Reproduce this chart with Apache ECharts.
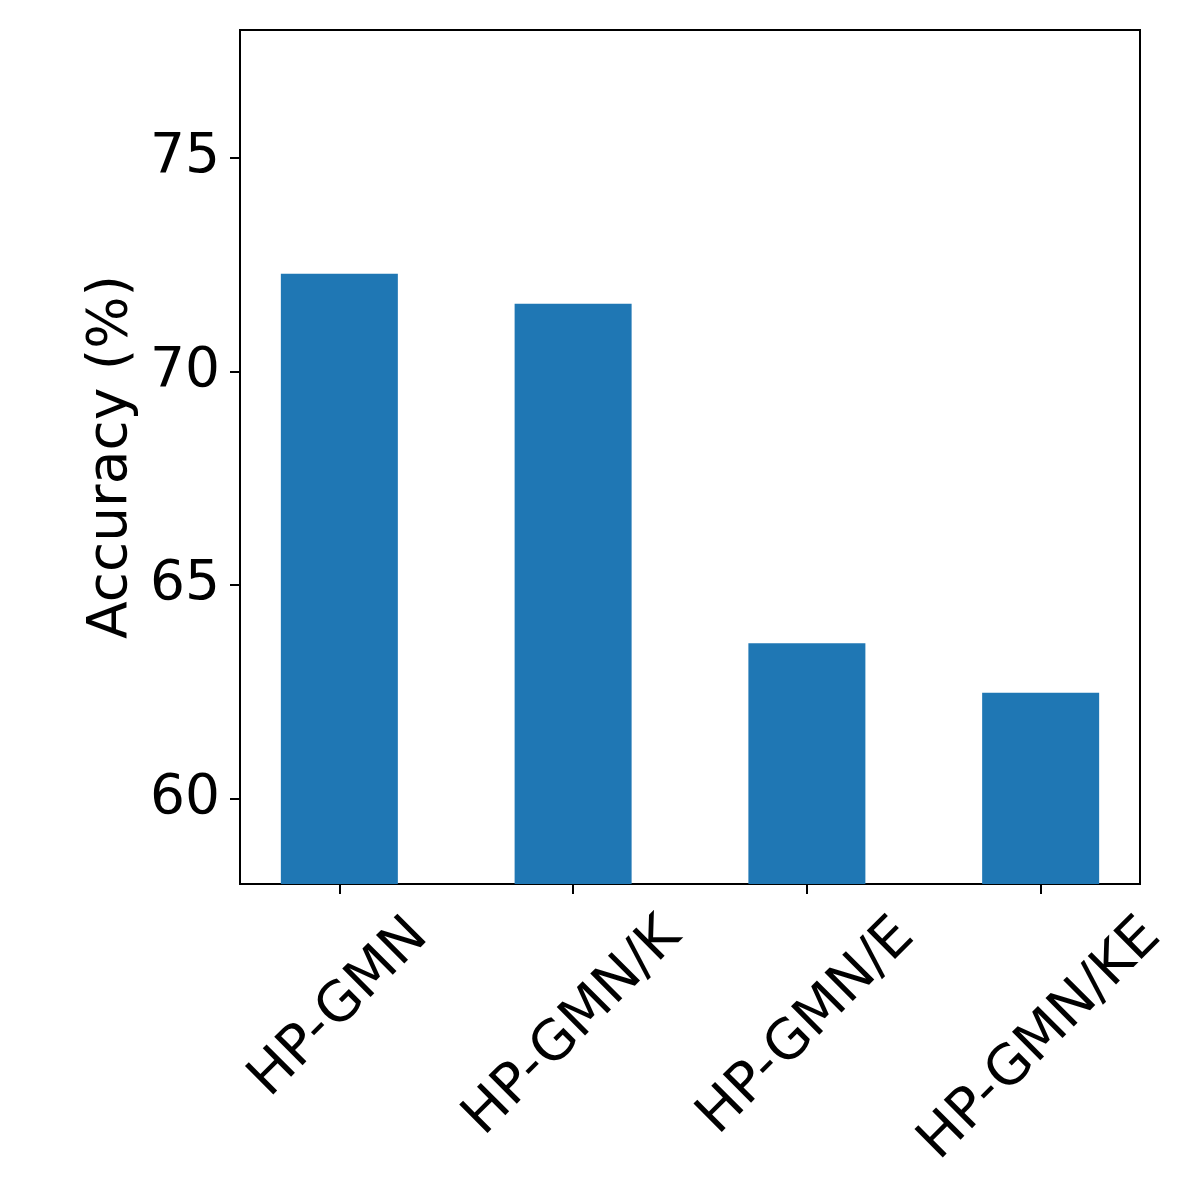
<!DOCTYPE html>
<html>
<head>
  <meta charset="UTF-8">
  <title>Accuracy bar chart</title>
  <script src="https://cdn.jsdelivr.net/npm/echarts@6/dist/echarts.min.js"></script>
  <style>
    html, body { margin: 0; padding: 0; background: #fff; }
    #chart { width: 1200px; height: 1200px; }
  </style>
</head>
<body>
<div id="chart"></div>
<script>
  // data
  var categories = ['HP-GMN', 'HP-GMN/K', 'HP-GMN/E', 'HP-GMN/KE'];
  var accuracy = [72.29, 71.59, 63.64, 62.48];
  var yTicks = [60, 65, 70, 75];
  var yTitle = 'Accuracy (%)';

  var FONT = 'DejaVu Sans';
  var FS = 55;

  // matplotlib centres rotated labels on the tick, so longer labels sit lower:
  // shift each one by padding derived from its measured width
  var ctx = document.createElement('canvas').getContext('2d');
  ctx.font = FS + 'px "' + FONT + '"';
  var widths = categories.map(function (c) { return ctx.measureText(c).width; });
  var w0 = widths[0];
  var rich = {};
  categories.forEach(function (c, i) {
    var p = Math.max(0, (widths[i] - w0) / 2);
    rich['p' + i] = {
      fontFamily: FONT,
      fontSize: FS,
      color: '#000',
      padding: [p, p, 0, 0]
    };
  });

  var barData = accuracy.map(function (v, i) { return [i, v]; });

  var myChart = echarts.init(document.getElementById('chart'));
  var option = {
    animation: false,
    backgroundColor: '#fff',
    grid: {
      left: 240,
      top: 30,
      width: 900,
      height: 854,
      show: true,
      borderColor: '#000',
      borderWidth: 2,
      containLabel: false
    },
    xAxis: {
      type: 'value',
      min: -0.425,
      max: 3.425,
      splitLine: { show: false },
      axisLine: { show: true, onZero: false, lineStyle: { color: '#000', width: 2 } },
      axisTick: {
        show: true,
        length: 10,
        customValues: [0, 1, 2, 3],
        lineStyle: { color: '#000', width: 2 }
      },
      axisLabel: {
        customValues: [0, 1, 2, 3],
        rotate: 45,
        align: 'center',
        verticalAlign: 'middle',
        margin: 124,
        fontFamily: FONT,
        fontSize: FS,
        color: '#000',
        formatter: function (v) {
          var i = Math.round(v);
          return '{p' + i + '|' + categories[i] + '}';
        },
        rich: rich
      }
    },
    yAxis: {
      type: 'value',
      min: 58,
      max: 78,
      name: yTitle,
      nameLocation: 'middle',
      nameGap: 97,
      nameTextStyle: { fontFamily: FONT, fontSize: FS, color: '#000' },
      splitLine: { show: false },
      axisLine: { show: true, onZero: false, lineStyle: { color: '#000', width: 2 } },
      axisTick: {
        show: true,
        length: 10,
        customValues: yTicks,
        lineStyle: { color: '#000', width: 2 }
      },
      axisLabel: {
        customValues: yTicks,
        margin: 20,
        fontFamily: FONT,
        fontSize: FS,
        color: '#000'
      }
    },
    series: [{
      type: 'bar',
      data: barData,
      barWidth: 117,
      itemStyle: { color: '#1f77b4' }
    }]
  };
  myChart.setOption(option);
</script>
</body>
</html>
